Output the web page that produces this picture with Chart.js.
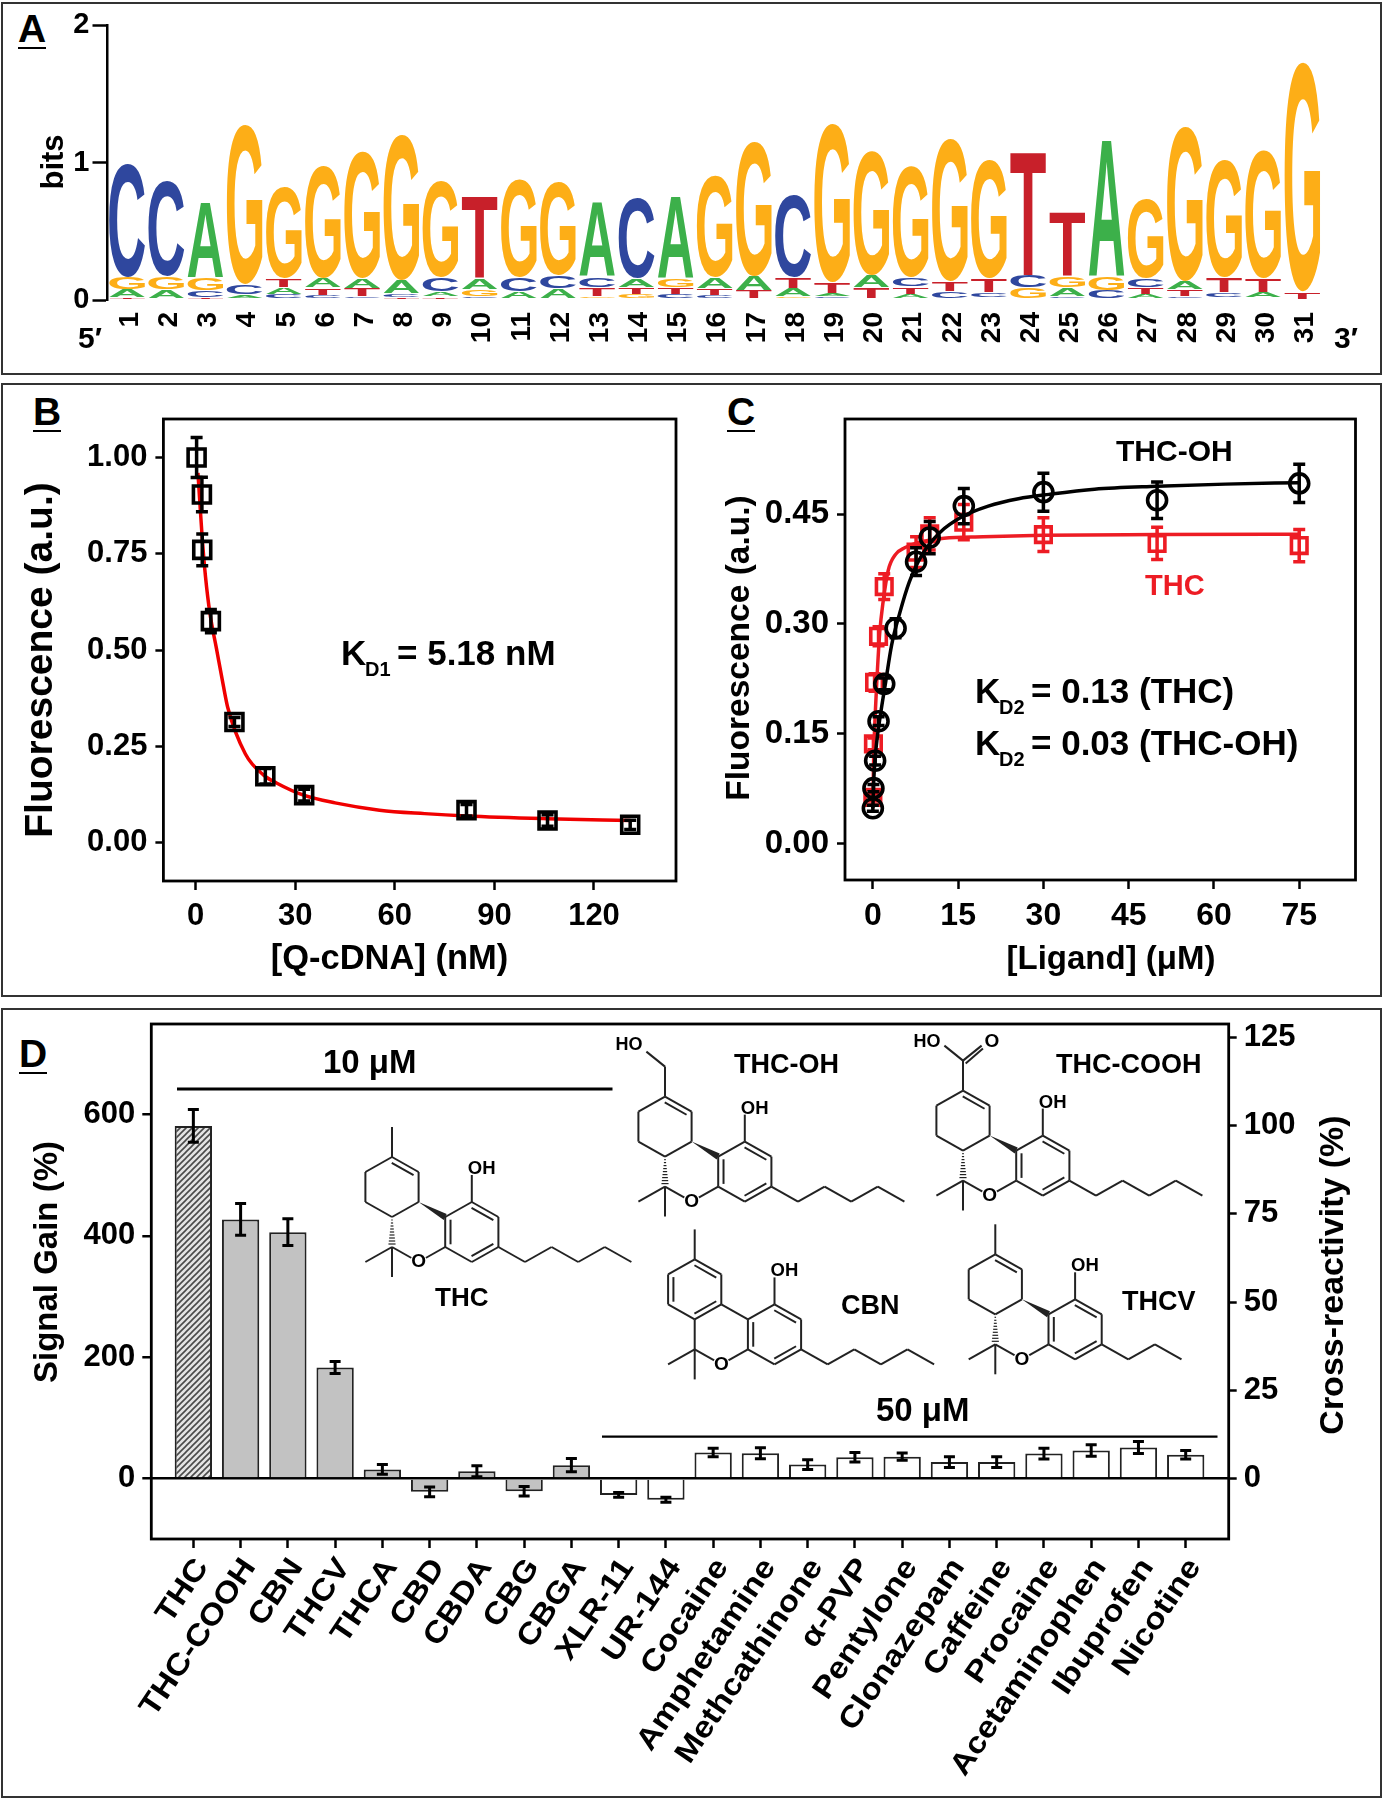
<!DOCTYPE html>
<html>
<head>
<meta charset="utf-8">
<title>Aptamer logo, binding curves and cross-reactivity</title>
<script src="https://cdn.jsdelivr.net/npm/chart.js@4"></script>
<style>
  html, body { margin: 0; background: #fff; }
  #page { position: relative; width: 1383px; height: 1800px; overflow: hidden; font-family: "Liberation Sans", Arial, sans-serif; }
  canvas { position: absolute; left: 0; top: 0; }
  .frame { position: absolute; box-sizing: border-box; border: 2.5px solid #333; }
  .letter { position: absolute; font-weight: bold; font-size: 39px; line-height: 36px; border-bottom: 2.5px solid #000; color: #000; }
</style>
</head>
<body>
<div id="page">
  <div class="frame" style="left:1px;top:2px;width:1381px;height:373px"></div>
  <div class="frame" style="left:1px;top:383px;width:1381px;height:614px"></div>
  <div class="frame" style="left:1px;top:1008px;width:1381px;height:790px"></div>
  <div class="letter" style="left:18px;top:11px">A</div>
  <div class="letter" style="left:33px;top:394px">B</div>
  <div class="letter" style="left:727px;top:394px">C</div>
  <div class="letter" style="left:19px;top:1036px">D</div>
  <canvas id="logoChart" width="1383" height="1800"></canvas>
  <canvas id="quenchChart" width="1383" height="1800"></canvas>
  <canvas id="ligandChart" width="1383" height="1800"></canvas>
  <canvas id="gainChart" width="1383" height="1800"></canvas>
</div>

<script>
// Panel A: sequence logo, letters of each position from bottom to top
const logoPositions = ["1","2","3","4","5","6","7","8","9","10","11","12","13","14","15","16","17","18","19","20","21","22","23","24","25","26","27","28","29","30","31"];
const logoLetters = ["TAGC","TAGC","TCGA","TACG","CATG","CTAG","CTAG","TCAG","TACG","CGAT","TACG","TACG","GTCA","GTAC","CTGA","CTAG","CTAG","GATC","CATG","CTAG","ATCG","ACTG","ACTG","AGCT","CAGT","TCGA","ATCG","CTAG","ACTG","CATG","CTAG"];
const logoBits1 = [.015,.01,.015,.01,.035,.03,.02,.015,.02,.02,.01,.01,.02,.035,.035,.03,.004,.02,.02,.004,.04,.01,.012,.004,.02,.004,.035,.02,.012,.012,.002];
const logoBits2 = [.06,.065,.05,.025,.05,.055,.06,.025,.035,.055,.05,.07,.065,.055,.055,.05,.06,.06,.025,.08,.055,.05,.04,.08,.065,.06,.055,.05,.04,.04,.05];
const logoBits3 = [.09,.09,.09,.075,.065,.07,.075,.1,.1,.08,.1,.09,.075,.06,.06,.08,.105,.08,.08,.09,.065,.07,.1,.09,.085,.1,.065,.06,.11,.1,.004];
const logoBits4 = [.835,.695,.555,1.17,.665,.82,.925,1.06,.705,.602,.716,.69,.54,.59,.595,.74,.99,.6,1.155,.91,.815,1.04,.868,.9,.47,.995,.585,1.13,.858,.938,1.674];
const logoTicks = [0, 1, 2];

// Panel B: Q-cDNA titration
const quenchX = [0.3, 1.9, 2, 4.6, 11.7, 21, 32.7, 81.6, 106, 130.9];
const quenchY = [1.0, 0.904, 0.76, 0.575, 0.313, 0.172, 0.123, 0.084, 0.057, 0.046];
const quenchErr = [0.052, 0.045, 0.041, 0.03, 0.012, 0.02, 0.015, 0.015, 0.015, 0.012];
const quenchFitX = [0.7, 1.2, 2, 3, 4.3, 6.3, 8.3, 9.7, 15, 20.5, 24.5, 32.5, 42, 55.4, 69, 81.6, 106, 131];
const quenchFitY = [0.96, 0.894, 0.79, 0.689, 0.596, 0.503, 0.41, 0.35, 0.23, 0.175, 0.154, 0.123, 0.103, 0.084, 0.075, 0.069, 0.062, 0.057];
const quenchTicksX = [0, 30, 60, 90, 120];
const quenchTicksY = [0, 0.25, 0.5, 0.75, 1];

// Panel C: ligand titration
const thcOhX = [0, 0.1, 0.4, 1, 2, 4, 7.6, 10, 16, 30, 50, 75];
const thcOhY = [0.048, 0.0755, 0.113, 0.167, 0.218, 0.294, 0.385, 0.418, 0.461, 0.48, 0.469, 0.492];
const thcOhErr = [0.004, 0.005, 0.006, 0.006, 0.008, 0.013, 0.019, 0.022, 0.024, 0.026, 0.025, 0.026];
const thcX = [0, 0.1, 0.3, 1, 2, 7.6, 10, 16, 30, 50, 75];
const thcY = [0.063, 0.136, 0.22, 0.283, 0.351, 0.398, 0.423, 0.439, 0.422, 0.41, 0.407];
const thcErr = [0.005, 0.008, 0.012, 0.013, 0.0175, 0.021, 0.022, 0.024, 0.023, 0.022, 0.022];
const thcOhFitX = [0, 0.2, 0.6, 1.4, 2.2, 3.3, 4.7, 6.4, 8.7, 11.8, 15.6, 20.3, 25.6, 31, 39, 50, 62, 75];
const thcOhFitY = [0.048, 0.093, 0.133, 0.179, 0.218, 0.271, 0.314, 0.357, 0.395, 0.425, 0.446, 0.461, 0.471, 0.477, 0.484, 0.488, 0.491, 0.493];
const thcFitX = [0, 0.15, 0.4, 0.7, 1.2, 1.8, 2.7, 4, 5.6, 7.9, 12.5, 19.4, 30, 50, 75];
const thcFitY = [0.05, 0.12, 0.174, 0.222, 0.287, 0.33, 0.373, 0.395, 0.404, 0.411, 0.417, 0.419, 0.421, 0.422, 0.4225];
const ligandTicksX = [0, 15, 30, 45, 60, 75];
const ligandTicksY = [0, 0.15, 0.3, 0.45];

// Panel D: signal gain per compound
const compounds = ["THC","THC-COOH","CBN","THCV","THCA","CBD","CBDA","CBG","CBGA","XLR-11","UR-144","Cocaine","Amphetamine","Methcathinone","α-PVP","Pentylone","Clonazepam","Caffeine","Procaine","Acetaminophen","Ibuprofen","Nicotine"];
const signalGain = [581, 427, 406, 183, 15, -22, 12, -21, 22, -27, -35, 43, 41.5, 23, 35, 36, 27, 27, 41, 46, 51, 39];
const signalErr = [27, 26, 22, 10, 8, 8, 9, 8, 11, 4, 4, 7, 9, 8, 8, 6, 9, 9, 9, 9.5, 10, 7];
const gainTicks = [0, 200, 400, 600];
const crossTicks = [0, 25, 50, 75, 100, 125];

const logoColors = { A: "#3cb04a", C: "#2f479e", G: "#fdae17", T: "#c8202a" };
const fontName = '"Liberation Sans", Arial, sans-serif';
const red = "#ed1c24";

Chart.defaults.font.family = fontName;
Chart.defaults.font.weight = "bold";
Chart.defaults.color = "#000";

// Every canvas covers the whole page, so the plot rectangle is pinned in page pixels
function pinnedScale(side, size) {
  return s => { if (side === "w") s.width = size; else s.height = size; };
}

function fixedTicks(values) {
  return s => { s.ticks = values.map(v => ({ value: v })); };
}

function outerTicks(length) {
  return { drawOnChartArea: false, tickLength: length, tickWidth: 2.5, tickColor: "#000" };
}

function baseOptions(left, top, right) {
  return {
    responsive: false,
    animation: false,
    events: [],
    layout: { padding: { left: 0, top: top, right: right, bottom: 0 } },
    plugins: { legend: { display: false }, tooltip: { enabled: false } }
  };
}

// Free text placed in page pixels
function drawNotes(ctx, notes) {
  notes.forEach(n => {
    ctx.save();
    ctx.translate(n.x, n.y);
    if (n.rot) ctx.rotate(n.rot * Math.PI / 180);
    ctx.font = "bold " + n.size + "px " + fontName;
    ctx.fillStyle = n.color || "#000";
    ctx.textAlign = n.align || "left";
    ctx.textBaseline = n.base || "alphabetic";
    ctx.fillText(n.t, 0, 0);
    ctx.restore();
  });
}

function notesPlugin(notes) {
  return { id: "notes", afterDraw: c => drawNotes(c.ctx, notes) };
}

const boxPlugin = {
  id: "box",
  afterDraw(c) {
    const a = c.chartArea;
    c.ctx.save();
    c.ctx.lineWidth = 2.8;
    c.ctx.strokeStyle = "#000";
    c.ctx.strokeRect(a.left, a.top, a.right - a.left, a.bottom - a.top);
    c.ctx.restore();
  }
};

// Chart.js has no error bars, draw them per dataset from its own scale
const errorPlugin = {
  id: "errors",
  afterDatasetDraw(c, args) {
    const ds = c.data.datasets[args.index];
    if (!ds.errors) return;
    const ctx = c.ctx;
    const yScale = c.scales[ds.yAxisID || "y"];
    ctx.save();
    ctx.strokeStyle = ds.errorColor || "#000";
    ctx.lineWidth = ds.errorWidth || 3.5;
    args.meta.data.forEach((pt, i) => {
      const v = ds.data[i].y;
      const hi = yScale.getPixelForValue(v + ds.errors[i]);
      const lo = yScale.getPixelForValue(v - ds.errors[i]);
      const cap = ds.errorCap || 6;
      ctx.beginPath();
      ctx.moveTo(pt.x, hi); ctx.lineTo(pt.x, lo);
      ctx.moveTo(pt.x - cap, hi); ctx.lineTo(pt.x + cap, hi);
      ctx.moveTo(pt.x - cap, lo); ctx.lineTo(pt.x + cap, lo);
      ctx.stroke();
    });
    ctx.restore();
  }
};

function pairs(xs, ys) {
  return xs.map((x, i) => ({ x: x, y: ys[i] }));
}

function fitLine(xs, ys, color) {
  return { data: pairs(xs, ys), borderColor: color, borderWidth: 3.5, pointRadius: 0, showLine: true, fill: false, cubicInterpolationMode: "monotone" };
}

function markers(xs, ys, errs, color, style, radius) {
  return { data: pairs(xs, ys), errors: errs, errorColor: color, showLine: false, pointStyle: style, pointRadius: radius, pointBorderWidth: 3.6, pointBorderColor: color, pointBackgroundColor: "transparent" };
}

// Panel A: stretch each letter over its stacked bar
const logoPlugin = {
  id: "logoLetters",
  afterDatasetsDraw(c) {
    const ctx = c.ctx;
    ctx.save();
    ctx.font = "bold 200px " + fontName;
    ctx.textAlign = "left";
    ctx.textBaseline = "alphabetic";
    c.data.datasets.forEach((ds, r) => {
      c.getDatasetMeta(r).data.forEach((bar, i) => {
        const letter = logoLetters[i][r];
        const h = Math.abs(bar.base - bar.y) - 1;
        if (h < 0.5) return;
        const m = ctx.measureText(letter);
        const gw = m.actualBoundingBoxRight + m.actualBoundingBoxLeft;
        const gh = m.actualBoundingBoxAscent + m.actualBoundingBoxDescent;
        ctx.save();
        ctx.translate(bar.x - bar.width / 2, bar.y);
        ctx.scale(bar.width / gw, h / gh);
        ctx.fillStyle = logoColors[letter];
        ctx.fillText(letter, m.actualBoundingBoxLeft, m.actualBoundingBoxAscent);
        ctx.restore();
      });
    });
    ctx.restore();
  }
};

function drawLogo() {
  const opts = baseOptions(0, 25, 61);
  opts.scales = {
    x: {
      stacked: true,
      afterFit: pinnedScale("h", 1500),
      grid: { display: false },
      border: { display: false },
      ticks: { font: { size: 28 }, minRotation: 90, maxRotation: 90, autoSkip: false, padding: 4, labelOffset: 3 }
    },
    y: {
      stacked: true, min: 0, max: 2,
      afterFit: pinnedScale("w", 107.5),
      afterBuildTicks: fixedTicks(logoTicks),
      grid: outerTicks(15),
      border: { display: true, color: "#000", width: 2.5 },
      ticks: { font: { size: 29 }, padding: 3, callback: v => String(v) }
    }
  };
  const ranks = [logoBits1, logoBits2, logoBits3, logoBits4];
  new Chart(document.getElementById("logoChart"), {
    type: "bar",
    data: {
      labels: logoPositions,
      datasets: ranks.map(bits => ({ data: bits, backgroundColor: "transparent", categoryPercentage: 1, barPercentage: 0.91 }))
    },
    options: opts,
    plugins: [logoPlugin, notesPlugin([
      { t: "bits", x: 54, y: 162, size: 31, rot: -90, align: "center", base: "middle" },
      { t: "5′", x: 78, y: 348, size: 30 },
      { t: "3′", x: 1334, y: 348, size: 30 }
    ])]
  });
}

function drawQuench() {
  const opts = baseOptions(0, 419, 707);
  opts.scales = {
    x: {
      type: "linear", min: -9.7, max: 144.7,
      afterFit: pinnedScale("h", 919),
      afterBuildTicks: fixedTicks(quenchTicksX),
      grid: outerTicks(9),
      border: { display: false },
      ticks: { font: { size: 31 }, padding: 8, maxRotation: 0, autoSkip: false, callback: v => String(v) }
    },
    y: {
      min: -0.1, max: 1.1,
      afterFit: pinnedScale("w", 163.4),
      afterBuildTicks: fixedTicks(quenchTicksY),
      grid: outerTicks(8),
      border: { display: false },
      ticks: { font: { size: 31 }, padding: 8, autoSkip: false, callback: v => v.toFixed(2) }
    }
  };
  new Chart(document.getElementById("quenchChart"), {
    type: "scatter",
    data: {
      datasets: [
        markers(quenchX, quenchY, quenchErr, "#000", "rect", 12),
        fitLine(quenchFitX, quenchFitY, "#f00000")
      ]
    },
    options: opts,
    plugins: [errorPlugin, boxPlugin, notesPlugin([
      { t: "Fluorescence (a.u.)", x: 41.5, y: 660, size: 39, rot: -90, align: "center", base: "middle" },
      { t: "[Q-cDNA] (nM)", x: 389.5, y: 969, size: 34.5, align: "center" },
      { t: "K", x: 341, y: 665, size: 35 },
      { t: "D1", x: 365, y: 676, size: 20 },
      { t: "= 5.18 nM", x: 397, y: 665, size: 35 }
    ])]
  });
}

function drawLigand() {
  const opts = baseOptions(0, 419, 27.5);
  opts.scales = {
    x: {
      type: "linear", min: -4.9, max: 84.9,
      afterFit: pinnedScale("h", 920),
      afterBuildTicks: fixedTicks(ligandTicksX),
      grid: outerTicks(9),
      border: { display: false },
      ticks: { font: { size: 32 }, padding: 8, maxRotation: 0, autoSkip: false, callback: v => String(v) }
    },
    y: {
      min: -0.05, max: 0.58,
      afterFit: pinnedScale("w", 845),
      afterBuildTicks: fixedTicks(ligandTicksY),
      grid: outerTicks(8),
      border: { display: false },
      ticks: { font: { size: 33 }, padding: 8, autoSkip: false, callback: v => v.toFixed(2) }
    }
  };
  new Chart(document.getElementById("ligandChart"), {
    type: "scatter",
    data: {
      datasets: [
        markers(thcOhX, thcOhY, thcOhErr, "#000", "circle", 9.5),
        fitLine(thcOhFitX, thcOhFitY, "#000"),
        markers(thcX, thcY, thcErr, red, "rect", 11),
        fitLine(thcFitX, thcFitY, red)
      ]
    },
    options: opts,
    plugins: [errorPlugin, boxPlugin, notesPlugin([
      { t: "Fluorescence (a.u.)", x: 740, y: 648, size: 33.5, rot: -90, align: "center", base: "middle" },
      { t: "[Ligand] (μM)", x: 1111, y: 969, size: 33, align: "center" },
      { t: "THC-OH", x: 1116, y: 461, size: 30 },
      { t: "THC", x: 1145, y: 595, size: 29, color: red },
      { t: "K", x: 975, y: 703, size: 35 },
      { t: "D2", x: 999, y: 714, size: 20 },
      { t: "= 0.13 (THC)", x: 1031, y: 703, size: 35 },
      { t: "K", x: 975, y: 755, size: 35 },
      { t: "D2", x: 999, y: 766, size: 20 },
      { t: "= 0.03 (THC-OH)", x: 1031, y: 755, size: 35 }
    ])]
  });
}

// Structure skeleton on a hex grid, units are columns and half bonds
const hexDx = 26.6, hexDy = 15;
const ringA = [[0,0],[1,1],[1,3],[0,4],[-1,3],[-1,1]];
const ringB = [[2,4],[3,3],[4,4],[4,6],[3,7],[2,6]];
const thcChain = [[4,6],[5,7],[6,6],[7,7],[8,6],[9,7]];
const thcvChain = [[4,6],[5,7],[6,6],[7,7]];
const structures = [
  { name: "THC", ox: 392, oy: 1157, chain: thcChain, sub: "methyl" },
  { name: "THC-OH", ox: 665, oy: 1096.6, chain: thcChain, sub: "alcohol" },
  { name: "THC-COOH", ox: 963, oy: 1090.6, chain: thcChain, sub: "acid" },
  { name: "CBN", ox: 694.7, oy: 1259.4, chain: thcChain, sub: "methyl", aromatic: true },
  { name: "THCV", ox: 995.3, oy: 1254.3, chain: thcvChain, sub: "methyl" }
];

function drawStructure(ctx, s) {
  const px = p => [s.ox + p[0] * hexDx, s.oy + p[1] * hexDy];
  const line = (a, b) => {
    const p = px(a), q = px(b);
    ctx.beginPath(); ctx.moveTo(p[0], p[1]); ctx.lineTo(q[0], q[1]); ctx.stroke();
  };
  const inner = (a, b, center) => {
    const p = px(a), q = px(b), c = px(center);
    const mx = (p[0] + q[0]) / 2, my = (p[1] + q[1]) / 2;
    const f = 0.82;
    const sx = (c[0] - mx) * 0.2, sy = (c[1] - my) * 0.2;
    ctx.beginPath();
    ctx.moveTo(mx + (p[0] - mx) * f + sx, my + (p[1] - my) * f + sy);
    ctx.lineTo(mx + (q[0] - mx) * f + sx, my + (q[1] - my) * f + sy);
    ctx.stroke();
  };
  const ring = pts => pts.forEach((p, i) => line(p, pts[(i + 1) % pts.length]));

  ctx.save();
  ctx.strokeStyle = "#222";
  ctx.fillStyle = "#222";
  ctx.lineWidth = 2;
  ring(ringA);
  ring(ringB);
  inner(ringA[0], ringA[1], [0, 2]);
  inner(ringB[1], ringB[2], [3, 5]);
  inner(ringB[3], ringB[4], [3, 5]);
  inner(ringB[5], ringB[0], [3, 5]);
  for (let i = 0; i + 1 < s.chain.length; i++) line(s.chain[i], s.chain[i + 1]);
  line([3, 3], [3, 1.2]);
  line([0, 6], [-1, 7]);
  line([0, 6], [0, 8]);
  line([0, 6], [1, 7]);
  line([1, 7], [2, 6]);

  if (s.aromatic) {
    inner(ringA[2], ringA[3], [0, 2]);
    inner(ringA[4], ringA[5], [0, 2]);
    line([1, 3], [2, 4]);
    line([0, 4], [0, 6]);
  } else {
    // solid wedge to the aromatic ring, hashed wedge to the quaternary carbon
    const a = px([1, 3]), b = px([2, 4]);
    ctx.beginPath();
    ctx.moveTo(a[0], a[1]); ctx.lineTo(b[0] + 1.5, b[1] - 3); ctx.lineTo(b[0] - 1.5, b[1] + 3);
    ctx.closePath(); ctx.fill();
    const t = px([0, 4]), u = px([0, 6]);
    ctx.lineWidth = 1.2;
    for (let k = 1; k <= 9; k++) {
      const y = t[1] + (u[1] - t[1]) * k / 10, w = 0.4 + k * 0.35;
      ctx.beginPath(); ctx.moveTo(t[0] - w, y); ctx.lineTo(t[0] + w, y); ctx.stroke();
    }
    ctx.lineWidth = 2;
  }

  if (s.sub === "methyl") line([0, 0], [0, -2]);
  if (s.sub === "alcohol") {
    line([0, 0], [0, -2]);
    line([0, -2], [-0.7, -3]);
  }
  if (s.sub === "acid") {
    line([0, 0], [0, -2]);
    line([0, -2], [-0.7, -3]);
    line([0, -2], [0.7, -3]);
    const c = px([0.1, -1.8]), d = px([0.75, -2.8]);
    ctx.beginPath(); ctx.moveTo(c[0], c[1]); ctx.lineTo(d[0], d[1]); ctx.stroke();
  }

  // white disc under the ring oxygen
  const o = px([1, 7]);
  ctx.fillStyle = "#fff";
  ctx.beginPath(); ctx.arc(o[0], o[1], 8.5, 0, Math.PI * 2); ctx.fill();
  ctx.restore();

  const oh = px([3, 1]);
  const labels = [
    { t: "O", x: o[0], y: o[1], size: 19, align: "center", base: "middle" },
    { t: "OH", x: oh[0] - 4, y: oh[1] + 2, size: 18.5 }
  ];
  if (s.sub === "alcohol") {
    const h = px([-0.7, -3]);
    labels.push({ t: "HO", x: h[0] - 4, y: h[1] - 2, size: 18, align: "right" });
  }
  if (s.sub === "acid") {
    const h = px([-0.7, -3]), k = px([0.7, -3]);
    labels.push({ t: "HO", x: h[0] - 4, y: h[1] + 1, size: 18, align: "right" });
    labels.push({ t: "O", x: k[0] + 3, y: k[1] + 1, size: 19 });
  }
  drawNotes(ctx, labels);
}

const structurePlugin = {
  id: "structures",
  afterDraw: c => structures.forEach(s => drawStructure(c.ctx, s))
};

// Slanted category labels, stretched along the text like the stretched panel
const slantedLabels = {
  id: "slantedLabels",
  afterDraw(c) {
    const ctx = c.ctx, xs = c.scales.x;
    compounds.forEach((name, i) => {
      ctx.save();
      ctx.translate(xs.getPixelForValue(i) + 9, 1562);
      ctx.rotate(-56 * Math.PI / 180);
      ctx.scale(1.13, 1);
      ctx.font = "bold 30px " + fontName;
      ctx.fillStyle = "#000";
      ctx.textAlign = "right";
      ctx.textBaseline = "middle";
      ctx.fillText(name, 0, 0);
      ctx.restore();
    });
  }
};

// Range bars above the two groups
const rangeBars = {
  id: "rangeBars",
  afterDraw(c) {
    const ctx = c.ctx;
    ctx.save();
    ctx.strokeStyle = "#000";
    ctx.lineWidth = 3;
    ctx.beginPath(); ctx.moveTo(177, 1089); ctx.lineTo(612.5, 1089); ctx.stroke();
    ctx.lineWidth = 2.2;
    ctx.beginPath(); ctx.moveTo(602, 1436.7); ctx.lineTo(1217.5, 1436.7); ctx.stroke();
    ctx.restore();
  }
};

function hatchPattern(ctx) {
  const p = document.createElement("canvas");
  p.width = 6; p.height = 6;
  const g = p.getContext("2d");
  g.fillStyle = "#e4e4e4";
  g.fillRect(0, 0, 6, 6);
  g.strokeStyle = "#4a4a4a";
  g.lineWidth = 1.6;
  g.beginPath();
  g.moveTo(-1, 7); g.lineTo(7, -1);
  g.moveTo(-1, 1); g.lineTo(1, -1);
  g.moveTo(5, 7); g.lineTo(7, 5);
  g.stroke();
  return ctx.createPattern(p, "repeat");
}

function drawGain() {
  const canvas = document.getElementById("gainChart");
  const hatch = hatchPattern(canvas.getContext("2d"));
  const fills = compounds.map((c, i) => i === 0 ? hatch : (i < 9 ? "#c2c2c2" : "#fff"));
  const opts = baseOptions(0, 1024, 0);
  opts.scales = {
    x: {
      type: "linear", min: -0.89, max: 21.91, offset: false,
      afterFit: pinnedScale("h", 261),
      afterBuildTicks: fixedTicks(compounds.map((c, i) => i)),
      grid: Object.assign(outerTicks(9), { offset: false }),
      border: { display: false },
      ticks: { display: false, autoSkip: false }
    },
    y: {
      min: -99.7, max: 749,
      afterFit: pinnedScale("w", 151.3),
      afterBuildTicks: fixedTicks(gainTicks),
      grid: { tickLength: 9, tickWidth: 2.5, tickColor: "#000", lineWidth: 2.5, color: ctx => ctx.tick && ctx.tick.value === 0 ? "#000" : "transparent" },
      border: { display: false },
      ticks: { font: { size: 31 }, padding: 7, autoSkip: false, callback: v => String(v) }
    },
    y1: {
      position: "right", min: -17.15, max: 128.8,
      afterFit: pinnedScale("w", 154.3),
      afterBuildTicks: fixedTicks(crossTicks),
      grid: outerTicks(8),
      border: { display: false },
      ticks: { font: { size: 31 }, padding: 7, autoSkip: false, callback: v => String(v) }
    }
  };
  new Chart(canvas, {
    type: "bar",
    data: {
      datasets: [{
        data: compounds.map((c, i) => ({ x: i, y: signalGain[i] })),
        errors: signalErr, errorWidth: 3, errorCap: 5.5,
        backgroundColor: fills, borderColor: "#222", borderWidth: 2,
        categoryPercentage: 1, barPercentage: 0.79
      }]
    },
    options: opts,
    plugins: [errorPlugin, boxPlugin, slantedLabels, rangeBars, structurePlugin, notesPlugin([
      { t: "Signal Gain (%)", x: 47.5, y: 1262, size: 33, rot: -90, align: "center", base: "middle" },
      { t: "Cross-reactivity (%)", x: 1334, y: 1275, size: 34, rot: -90, align: "center", base: "middle" },
      { t: "10 μM", x: 323, y: 1073, size: 33 },
      { t: "50 μM", x: 876, y: 1421, size: 33 },
      { t: "THC", x: 435, y: 1306, size: 26 },
      { t: "THC-OH", x: 734, y: 1073, size: 27 },
      { t: "THC-COOH", x: 1056, y: 1073, size: 27 },
      { t: "CBN", x: 841, y: 1314, size: 27 },
      { t: "THCV", x: 1122, y: 1310, size: 27 }
    ])]
  });
}

drawLogo();
drawQuench();
drawLigand();
drawGain();
</script>
</body>
</html>
